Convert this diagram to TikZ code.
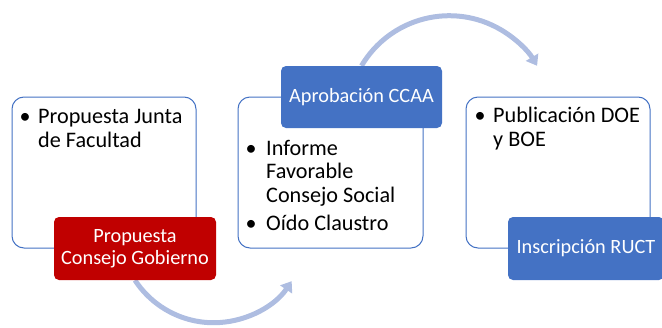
\documentclass[tikz,border=0pt]{standalone}
\usepackage{fontspec}
\setmainfont{Carlito}
\usetikzlibrary{arrows.meta}
\definecolor{accblue}{HTML}{4472C4}
\definecolor{accred}{HTML}{C00000}
\definecolor{arcblue}{RGB}{174,189,225}
\pgfdeclarelayer{arcs}
\pgfsetlayers{arcs,main}
\tikzset{
  outerbox/.style={draw=accblue, line width=1pt, fill=white, rounded corners=12pt, inner sep=0pt},
  innerbox/.style={rounded corners=5pt, inner sep=0pt, text=white, align=center, font=\fontsize{20.3}{22}\selectfont},
  line/.style={anchor=base west, inner sep=0pt, font=\fontsize{22.2}{24}\selectfont},
  bullet/.style={anchor=base, inner sep=0pt, font=\fontsize{22}{24}\selectfont},
  flow/.style={draw=arcblue, line width=5pt, -{Triangle[length=10pt,width=14pt]}}
}
\begin{document}
\begin{tikzpicture}[x=1pt,y=-1pt]
\useasboundingbox (0,0) rectangle (662,327);
% outer boxes
\node[outerbox, minimum width=184pt, minimum height=151pt] (b1) at (104,172.5) {};
\node[outerbox, minimum width=185pt, minimum height=151pt] (b2) at (330.5,172.5) {};
\node[outerbox, minimum width=184pt, minimum height=151pt] (b3) at (558,172.5) {};
% texts box 1
\node[bullet] (d1) at (25,123) {•};
\node[line] (t1a) at (38,123) {Propuesta Junta};
\node[line] (t1b) at (38,147) {de Facultad};
% texts box 2
\node[bullet] (d2) at (251,155) {•};
\node[line] (t2a) at (266,155) {Informe};
\node[line] (t2b) at (266,178.5) {Favorable};
\node[line] (t2c) at (266,202) {Consejo Social};
\node[bullet] (d3) at (251,230) {•};
\node[line] (t2d) at (266,230) {Oído Claustro};
% texts box 3
\node[bullet] (d4) at (480,122) {•};
\node[line] (t3a) at (493,122) {Publicación DOE};
\node[line] (t3b) at (493,146.5) {y BOE};
% inner boxes
\node[innerbox, fill=accred, minimum width=162pt, minimum height=63pt] (r1) at (135,248.5) {Propuesta\\Consejo Gobierno};
\node[innerbox, fill=accblue, minimum width=161pt, minimum height=62pt] (r2) at (361.5,97) {Aprobación CCAA};
\node[innerbox, fill=accblue, minimum width=156pt, minimum height=63pt] (r3) at (586,248.5) {Inscripción RUCT};
% arcs (behind everything)
\begin{pgfonlayer}{arcs}
\draw[flow] (r1.south) arc[start angle=146.8, end angle=33.9, radius=94];
\draw[flow] (r2.north) arc[start angle=210.6, end angle=329.4, radius=102];
\end{pgfonlayer}
\end{tikzpicture}
\end{document}
